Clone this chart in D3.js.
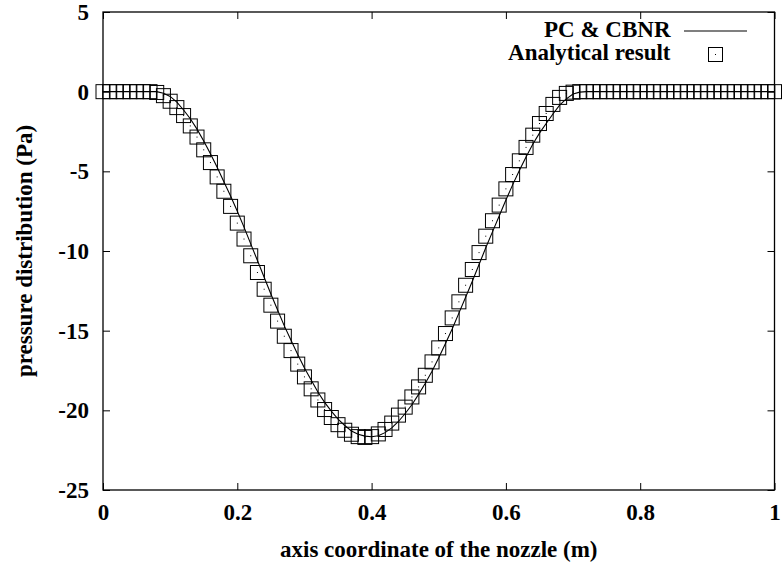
<!DOCTYPE html>
<html>
<head>
<meta charset="utf-8">
<script src="https://cdn.jsdelivr.net/npm/d3@7"></script>
<style>
	body { margin: 0; background: #fff; }
	svg { display: block; }
	text { font-family: 'Liberation Serif', 'Times New Roman', serif; font-weight: bold; fill: #000; }
</style>
</head>
<body>
<div class="chart"></div>
<script>
const X_VALUES = [
	0, 0.01, 0.02, 0.03, 0.04, 0.05, 0.06, 0.07, 0.08, 0.09,
	0.1, 0.11, 0.12, 0.13, 0.14, 0.15, 0.16, 0.17, 0.18, 0.19,
	0.2, 0.21, 0.22, 0.23, 0.24, 0.25, 0.26, 0.27, 0.28, 0.29,
	0.3, 0.31, 0.32, 0.33, 0.34, 0.35, 0.36, 0.37, 0.38, 0.39,
	0.4, 0.41, 0.42, 0.43, 0.44, 0.45, 0.46, 0.47, 0.48, 0.49,
	0.5, 0.51, 0.52, 0.53, 0.54, 0.55, 0.56, 0.57, 0.58, 0.59,
	0.6, 0.61, 0.62, 0.63, 0.64, 0.65, 0.66, 0.67, 0.68, 0.69,
	0.7, 0.71, 0.72, 0.73, 0.74, 0.75, 0.76, 0.77, 0.78, 0.79,
	0.8, 0.81, 0.82, 0.83, 0.84, 0.85, 0.86, 0.87, 0.88, 0.89,
	0.9, 0.91, 0.92, 0.93, 0.94, 0.95, 0.96, 0.97, 0.98, 0.99,
	1
];

// PC & CBNR (solid line)
const PC_CBNR = [
	0, 0, 0, 0, 0, 0, 0, 0, 0, -0.1,
	-0.3, -0.65, -1.15, -1.7, -2.35, -3.1, -3.9, -4.75, -5.65, -6.55,
	-7.5, -8.5, -9.55, -10.6, -11.65, -12.7, -13.7, -14.7, -15.6, -16.5,
	-17.35, -18.1, -18.85, -19.5, -20.05, -20.55, -20.95, -21.3, -21.5, -21.62,
	-21.66, -21.6, -21.4, -21.1, -20.7, -20.2, -19.65, -19.0, -18.3, -17.55,
	-16.7, -15.8, -14.9, -13.9, -12.9, -11.9, -10.85, -9.8, -8.8, -7.8,
	-6.8, -5.85, -4.95, -4.1, -3.3, -2.6, -2.0, -1.4, -0.85, -0.45,
	-0.15, -0.03, 0, 0, 0, 0, 0, 0, 0, 0,
	0, 0, 0, 0, 0, 0, 0, 0, 0, 0,
	0, 0, 0, 0, 0, 0, 0, 0, 0, 0,
	0
];

// Analytical result (squares)
const ANALYTICAL = [
	0, 0, 0, 0, 0, 0, 0, 0, -0.05, -0.25,
	-0.6, -1.0, -1.5, -2.15, -2.85, -3.65, -4.45, -5.35, -6.25, -7.2,
	-8.25, -9.25, -10.3, -11.35, -12.4, -13.4, -14.4, -15.35, -16.25, -17.1,
	-17.9, -18.65, -19.35, -19.95, -20.45, -20.9, -21.25, -21.5, -21.65, -21.7,
	-21.65, -21.48, -21.2, -20.8, -20.3, -19.8, -19.16, -18.53, -17.8, -16.96,
	-16.08, -15.18, -14.2, -13.19, -12.15, -11.16, -10.1, -9.07, -8.1, -7.12,
	-6.1, -5.2, -4.34, -3.5, -2.73, -2.0, -1.37, -0.8, -0.36, -0.11,
	-0.03, 0, 0, 0, 0, 0, 0, 0, 0, 0,
	0, 0, 0, 0, 0, 0, 0, 0, 0, 0,
	0, 0, 0, 0, 0, 0, 0, 0, 0, 0,
	0
];

const X_TICKS = [0, 0.2, 0.4, 0.6, 0.8, 1];
const Y_TICKS = [5, 0, -5, -10, -15, -20, -25];
const LEGEND_LABELS = ['PC & CBNR', 'Analytical result'];
const X_TITLE = 'axis coordinate of the nozzle (m)';
const Y_TITLE = 'pressure distribution (Pa)';

const WIDTH = 782;
const HEIGHT = 567;
const PLOT = { left: 103, right: 774.5, top: 12, bottom: 490 };
const TICK = 7;
const FONT_SIZE = 23;
const BOX = 14;

const x = d3.scaleLinear().domain([0, 1]).range([PLOT.left, PLOT.right]);
const y = d3.scaleLinear().domain([-25, 5]).range([PLOT.bottom, PLOT.top]);

// plain hyphen minus, as in the original figure
const fmt = d => String(d);

const svg = d3
	.select('.chart')
	.append('svg')
	.attr('width', WIDTH)
	.attr('height', HEIGHT);

// axes with inward ticks, mirrored on top and right
const axisBottom = d3
	.axisBottom(x)
	.tickValues(X_TICKS)
	.tickSize(-TICK)
	.tickPadding(14)
	.tickFormat(fmt);

const axisTop = d3.axisTop(x).tickValues(X_TICKS).tickSize(-TICK).tickFormat('');

const axisLeft = d3
	.axisLeft(y)
	.tickValues(Y_TICKS)
	.tickSize(-TICK)
	.tickPadding(14)
	.tickFormat(fmt);

const axisRight = d3.axisRight(y).tickValues(Y_TICKS).tickSize(-TICK).tickFormat('');

function styleAxis(g) {
	g.select('.domain').remove();
	g.selectAll('line').attr('stroke', '#000').attr('stroke-width', 1);
	g.selectAll('text').style('font-size', `${FONT_SIZE}px`).style('font-family', null);
	g.attr('font-family', null).attr('font-size', null);
}

svg
	.append('g')
	.attr('transform', `translate(0, ${PLOT.bottom})`)
	.call(axisBottom)
	.call(styleAxis);

svg
	.append('g')
	.attr('transform', `translate(0, ${PLOT.top})`)
	.call(axisTop)
	.call(styleAxis);

svg
	.append('g')
	.attr('transform', `translate(${PLOT.left}, 0)`)
	.call(axisLeft)
	.call(styleAxis);

svg
	.append('g')
	.attr('transform', `translate(${PLOT.right}, 0)`)
	.call(axisRight)
	.call(styleAxis);

svg
	.append('rect')
	.attr('x', PLOT.left)
	.attr('y', PLOT.top)
	.attr('width', PLOT.right - PLOT.left)
	.attr('height', PLOT.bottom - PLOT.top)
	.attr('fill', 'none')
	.attr('stroke', '#000')
	.attr('stroke-width', 1.3);

// titles
svg
	.append('text')
	.attr('x', (PLOT.left + PLOT.right) / 2)
	.attr('y', 557)
	.attr('text-anchor', 'middle')
	.style('font-size', `${FONT_SIZE}px`)
	.text(X_TITLE);

svg
	.append('text')
	.attr('transform', `translate(32, ${(PLOT.top + PLOT.bottom) / 2}) rotate(-90)`)
	.attr('text-anchor', 'middle')
	.style('font-size', `${FONT_SIZE}px`)
	.text(Y_TITLE);

// series
const lineData = X_VALUES.map((v, i) => ({ x: v, y: PC_CBNR[i] }));
const pointData = X_VALUES.map((v, i) => ({ x: v, y: ANALYTICAL[i] }));

const line = d3
	.line()
	.x(d => x(d.x))
	.y(d => y(d.y));

svg
	.append('path')
	.datum(lineData)
	.attr('d', line)
	.attr('fill', 'none')
	.attr('stroke', '#000')
	.attr('stroke-width', 1.1);

function drawBox(g) {
	g
		.append('rect')
		.attr('x', -BOX / 2)
		.attr('y', -BOX / 2)
		.attr('width', BOX)
		.attr('height', BOX)
		.attr('fill', 'none')
		.attr('stroke', '#000')
		.attr('stroke-width', 1);
	g
		.append('rect')
		.attr('x', -0.5)
		.attr('y', -0.5)
		.attr('width', 1)
		.attr('height', 1)
		.attr('fill', '#000');
}

svg
	.append('g')
	.selectAll('g')
	.data(pointData)
	.enter()
	.append('g')
	.attr('transform', d => `translate(${x(d.x)}, ${y(d.y)})`)
	.each(function() {
		drawBox(d3.select(this));
	});

// legend
const legend = svg.append('g').attr('class', 'legend');

legend
	.selectAll('text')
	.data(LEGEND_LABELS)
	.enter()
	.append('text')
	.attr('x', 670.5)
	.attr('y', (d, i) => 37 + i * 23)
	.attr('text-anchor', 'end')
	.style('font-size', `${FONT_SIZE}px`)
	.text(d => d);

legend
	.append('line')
	.attr('x1', 684)
	.attr('x2', 747)
	.attr('y1', 31)
	.attr('y2', 31)
	.attr('stroke', '#000')
	.attr('stroke-width', 1.1);

legend
	.append('g')
	.attr('transform', 'translate(715.5, 54.5)')
	.call(drawBox);
</script>
</body>
</html>
